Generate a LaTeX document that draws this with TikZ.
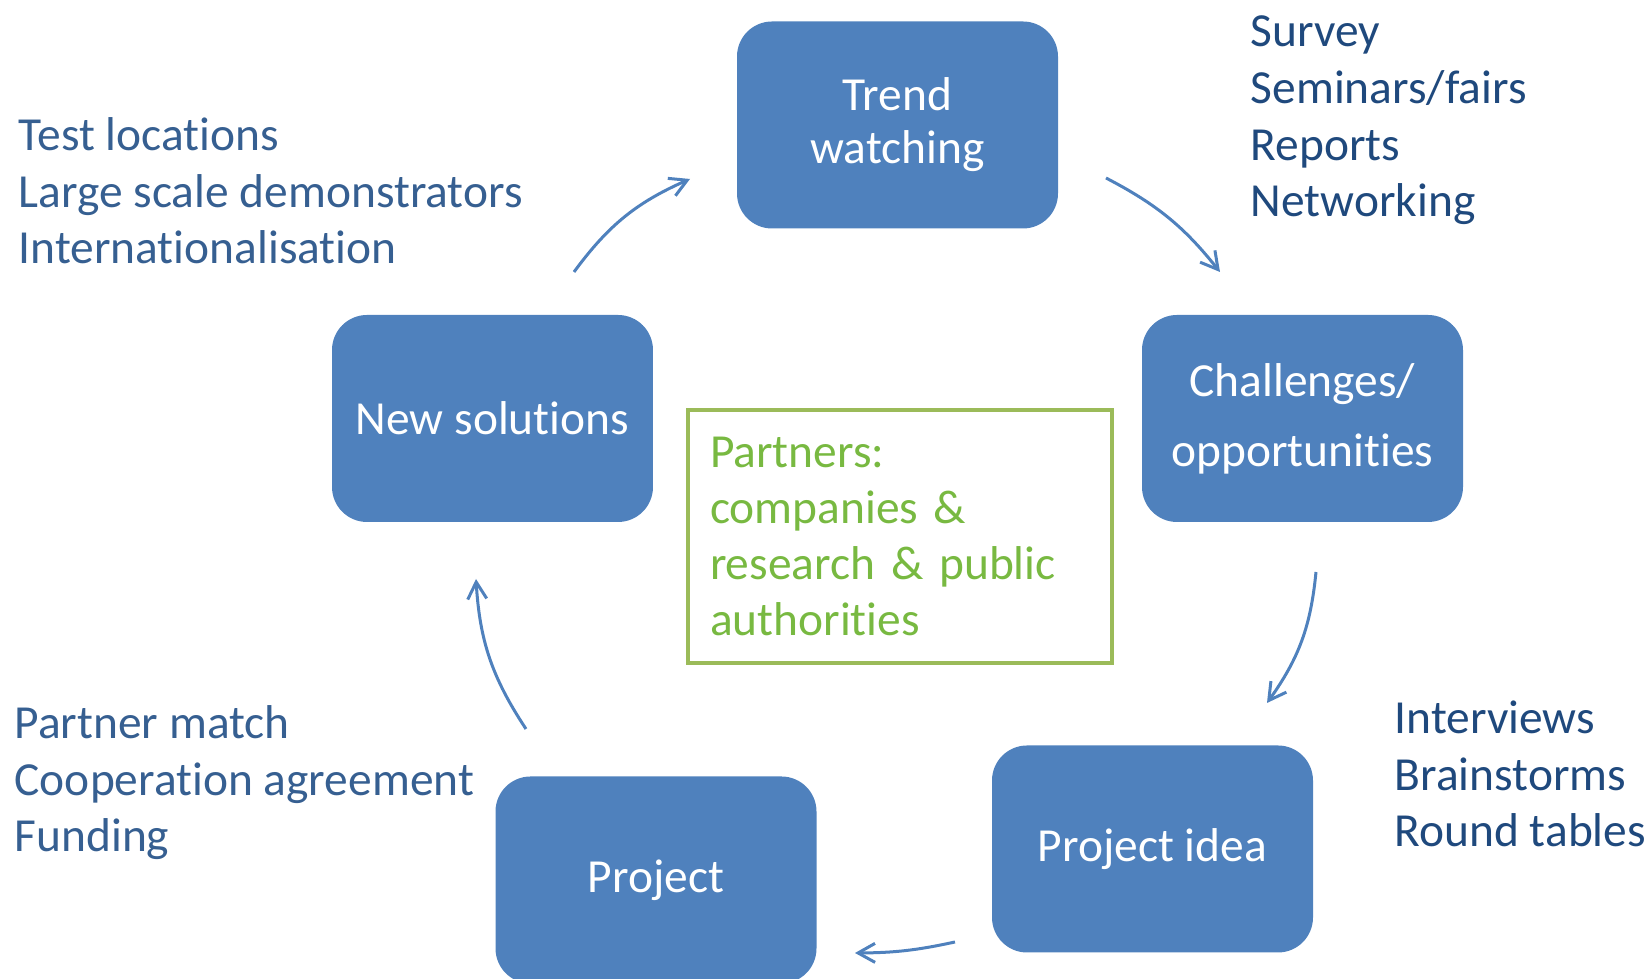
\documentclass[tikz,border=0pt]{standalone}
\usepackage{fontspec}
\setmainfont{Carlito}[Ligatures=NoCommon]
\usetikzlibrary{arrows.meta}

\definecolor{boxblue}{HTML}{4F81BD}
\definecolor{darknavy}{HTML}{1F497D}
\definecolor{steelnavy}{HTML}{365F91}
\definecolor{partnergreen}{RGB}{120,185,65}
\definecolor{framegreen}{HTML}{9BBB59}

\tikzset{
  phase/.style={rectangle, rounded corners=3.5mm, fill=boxblue, text=white,
    minimum width=32.1mm, minimum height=20.7mm, align=center, inner sep=0pt},
  notes/.style={anchor=base west, align=left, inner sep=0pt,
    font=\fontsize{13.5}{16.2}\selectfont},
  cycle/.style={draw=boxblue, line width=0.3mm,
    -{Straight Barb[length=1.7mm,width=1.9mm]}},
}

\begin{document}
\begin{tikzpicture}[x=0.1mm, y=-0.1mm]
    \useasboundingbox (0,0) rectangle (1651,979);
    \clip (0,0) rectangle (1651,979);

    % the five phases
    \node[phase, font=\fontsize{13.5}{15.1}\selectfont] (trend) at (897.5,125) {Trend\\watching};
    \node[phase, font=\fontsize{13.5}{19.9}\selectfont] (challenge) at (1302.5,418.5) {Challenges/\\opportunities};
    \node[phase, font=\fontsize{13.5}{16}\selectfont] (idea) at (1152.5,849) {Project idea};
    \node[phase, font=\fontsize{13.5}{16}\selectfont] (project) at (656,880) {Project};
    \node[phase, font=\fontsize{13.5}{16}\selectfont] (solutions) at (492.5,418.5) {New solutions};

    % partners in the middle
    \node[draw=framegreen, line width=0.4mm, text=partnergreen,
          minimum width=42.4mm, minimum height=25.3mm,
          text width=38mm, inner xsep=2.2mm, align=left,
          font=\fontsize{13.5}{15.9}\selectfont] (partners) at (900,536.5)
          {Partners:\\companies \&\\research \& public\\authorities};

    % activities (anchored on the last line)
    \node[notes, text=darknavy] (trendnotes) at (1250,217)
          {Survey\\Seminars/fairs\\Reports\\Networking};
    \node[notes, text=darknavy] (ideanotes) at (1394,847)
          {Interviews\\Brainstorms\\Round tables};
    \node[notes, text=steelnavy] (projectnotes) at (14,852)
          {Partner match\\Cooperation agreement\\Funding};
    \node[notes, text=steelnavy] (solutionnotes) at (18,264)
          {Test locations\\Large scale demonstrators\\Internationalisation};

    % arrow ends
    \coordinate (t1) at (1106,178);
    \coordinate (c0) at (1220,272);
    \coordinate (c1) at (1316,572);
    \coordinate (i0) at (1267,703);
    \coordinate (i1) at (955,942);
    \coordinate (p0) at (855,953);
    \coordinate (p1) at (526,729);
    \coordinate (s0) at (476,579);
    \coordinate (s1) at (574,272);
    \coordinate (t0) at (690,179);

    \draw[cycle] (t1) to[bend left=12] (c0);
    \draw[cycle] (c1) to[bend left=15] (i0);
    \draw[cycle] (i1) to[bend left=6] (p0);
    \draw[cycle] (p1) to[bend left=15] (s0);
    \draw[cycle] (s1) to[bend left=15] (t0);
\end{tikzpicture}
\end{document}
